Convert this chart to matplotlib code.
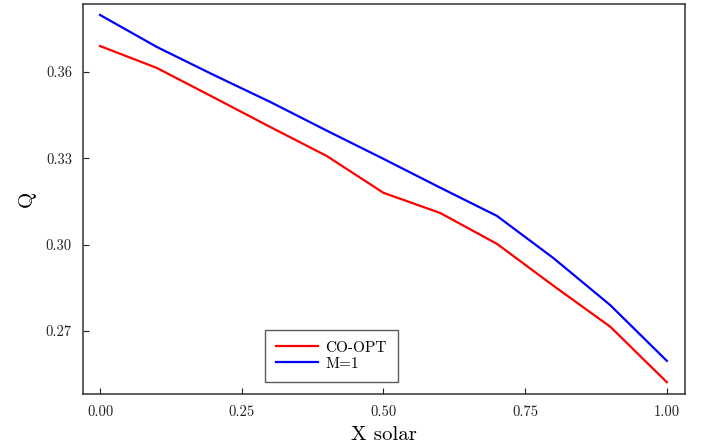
import numpy as np
import matplotlib.pyplot as plt

plt.rcParams['font.family'] = 'cmr10'
plt.rcParams['mathtext.fontset'] = 'cm'
plt.rcParams['axes.formatter.use_mathtext'] = True

# solar fraction and Q for both strategies
x_solar = [0.0, 0.1, 0.2, 0.3, 0.4, 0.5, 0.6, 0.7, 0.8, 0.9, 1.0]
q_coopt = [0.3690, 0.3614, 0.3512, 0.3409, 0.3308, 0.3180, 0.3110, 0.3003,
           0.2857, 0.2715, 0.2522]
q_m1 = [0.3798, 0.3687, 0.3590, 0.3496, 0.3396, 0.3298, 0.3198, 0.3100,
        0.2953, 0.2790, 0.2596]

xticks = [0.0, 0.25, 0.5, 0.75, 1.0]
yticks = [0.27, 0.30, 0.33, 0.36]

fig = plt.figure(figsize=(7.1, 4.48), dpi=100)
ax = fig.add_axes([83/710, 1 - 394/448, 602/710, 390/448])

ax.plot(x_solar, q_coopt, color='red', lw=1.6, label='CO-OPT')
ax.plot(x_solar, q_m1, color='blue', lw=1.6, label='M=1')

ax.set_xlim(-0.03, 1.032)
ax.set_ylim(0.2481, 0.3836)
ax.set_xticks(xticks)
ax.set_xticklabels(['%.2f' % v for v in xticks])
ax.set_yticks(yticks)
ax.set_yticklabels(['%.2f' % v for v in yticks])
ax.tick_params(direction='in', length=4, width=0.8, labelsize=10.5,
               colors='#222222', pad=8)

for s in ax.spines.values():
    s.set_linewidth(1.1)
    s.set_color('#333333')

ax.set_xlabel('X solar', fontsize=15, labelpad=5)
ax.set_ylabel('Q', fontsize=15, labelpad=7)

leg = ax.legend(loc='lower left', bbox_to_anchor=(0.302, 0.03), fontsize=11,
                frameon=True, fancybox=False, handlelength=2.7,
                borderpad=0.75, labelspacing=0.15, handletextpad=0.5,
                borderaxespad=0.0)
leg.get_frame().set_edgecolor('#333333')
leg.get_frame().set_linewidth(1.0)

fig.savefig('out.png', dpi=100)
plt.close(fig)
